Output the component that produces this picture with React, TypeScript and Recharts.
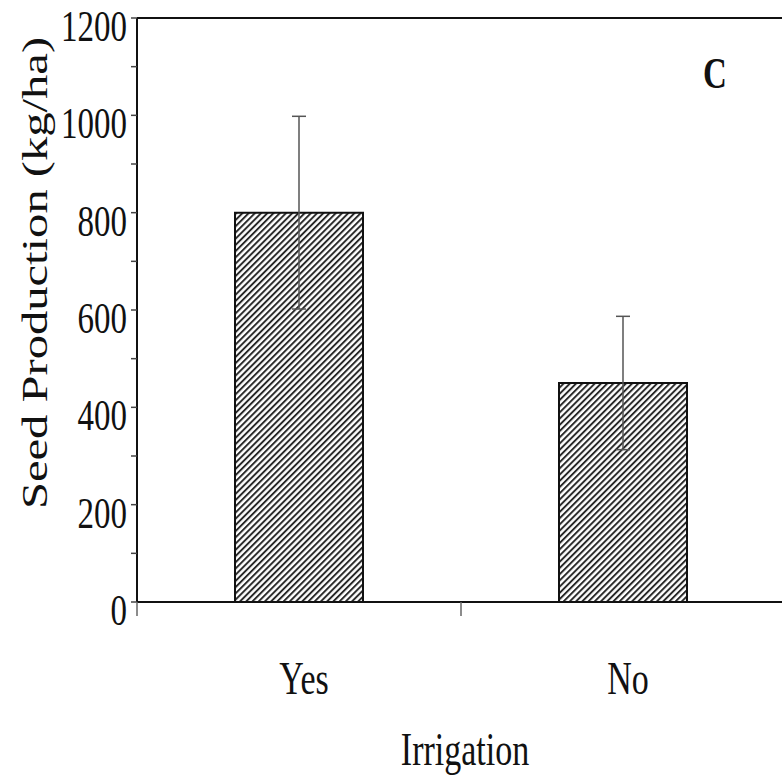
import { Bar, BarChart, ErrorBar, ReferenceLine, XAxis, YAxis } from "recharts";

const categories = ["Yes", "No"];
const seedProduction = [800, 450];
const seedError = [198, 137];
const yTicks = [0, 100, 200, 300, 400, 500, 600, 700, 800, 900, 1000, 1100, 1200];
const labelledTicks = [0, 200, 400, 600, 800, 1000, 1200];

const data = categories.map((irrigation, i) => ({
  irrigation,
  seed: seedProduction[i],
  err: seedError[i],
}));

const serif = '"Liberation Serif", "Times New Roman", serif';
// the original figure is stretched vertically, so text gets the same stretch
const stretch = 1.35;

function YTick({ x, y, payload }: any) {
  if (!labelledTicks.includes(payload.value)) return <g />;
  return (
    <text
      transform={`translate(${x},${y + 23}) scale(1,${stretch})`}
      textAnchor="end"
      fontFamily={serif}
      fontSize={33}
      fill="#111"
    >
      {payload.value}
    </text>
  );
}

function XTick({ x, y, payload, index, visibleTicksCount, width }: any) {
  const half = payload.offset > 0 ? payload.offset : width / visibleTicksCount / 2;
  return (
    <g>
      <line x1={x - half} x2={x - half} y1={y} y2={y + 14} stroke="#666" strokeWidth={1.5} />
      {index === visibleTicksCount - 1 && (
        <line x1={x + half} x2={x + half} y1={y} y2={y + 14} stroke="#666" strokeWidth={1.5} />
      )}
      <text
        transform={`translate(${x + 5},${y + 92}) scale(1,${stretch})`}
        textAnchor="middle"
        fontFamily={serif}
        fontSize={34}
        fill="#111"
      >
        {payload.value}
      </text>
    </g>
  );
}

export default function App() {
  return (
    <div
      style={{
        position: "absolute",
        left: 0,
        top: 0,
        width: 782,
        height: 777,
        overflow: "hidden",
        background: "#fff",
      }}
    >
      <svg width={0} height={0} style={{ position: "absolute" }}>
        <defs>
          <pattern
            id="hatch"
            patternUnits="userSpaceOnUse"
            width={4.4}
            height={4.4}
            patternTransform="rotate(45)"
          >
            <rect width={4.4} height={4.4} fill="#fff" />
            <line x1={1} y1={0} x2={1} y2={4.4} stroke="#222" strokeWidth={1.9} />
          </pattern>
        </defs>
      </svg>
      <BarChart
        width={785}
        height={777}
        data={data}
        margin={{ top: 18, right: 0, bottom: 0, left: 0 }}
      >
        <XAxis
          dataKey="irrigation"
          height={175}
          axisLine={{ stroke: "#111", strokeWidth: 2 }}
          tickLine={false}
          tickSize={0}
          tickMargin={0}
          tick={<XTick />}
          label={{
            content: ({ viewBox }: any) => (
              <text
                transform={`translate(${viewBox.x + viewBox.width / 2 + 4},${viewBox.y + 163}) scale(1,${stretch})`}
                textAnchor="middle"
                fontFamily={serif}
                fontSize={34}
                fill="#111"
              >
                Irrigation
              </text>
            ),
          }}
        />
        <YAxis
          width={137}
          domain={[0, 1200]}
          ticks={yTicks}
          interval={0}
          axisLine={{ stroke: "#111", strokeWidth: 2 }}
          tickLine={{ stroke: "#444", strokeWidth: 1.5 }}
          tickSize={6}
          tickMargin={4}
          tick={<YTick />}
          label={{
            content: ({ viewBox }: any) => (
              <text
                transform={`translate(${viewBox.x + 47},${viewBox.y + viewBox.height / 2 - 37}) rotate(-90) scale(${stretch},1)`}
                textAnchor="middle"
                fontFamily={serif}
                fontSize={36}
                fill="#111"
              >
                Seed Production (kg/ha)
              </text>
            ),
          }}
        />
        <ReferenceLine
          y={1200}
          stroke="#111"
          strokeWidth={2}
          label={{
            content: ({ viewBox }: any) => (
              <text
                transform={`translate(${viewBox.x + viewBox.width * 0.892},${viewBox.y + 70}) scale(1,${stretch})`}
                textAnchor="middle"
                fontFamily={serif}
                fontWeight="bold"
                fontSize={33}
                fill="#111"
              >
                C
              </text>
            ),
          }}
        />
        <Bar
          dataKey="seed"
          fill="url(#hatch)"
          stroke="#111"
          strokeWidth={2}
          barSize={128}
          isAnimationActive={false}
        >
          <ErrorBar dataKey="err" width={7} stroke="#555" strokeWidth={1.5} direction="y" />
        </Bar>
      </BarChart>
    </div>
  );
}
